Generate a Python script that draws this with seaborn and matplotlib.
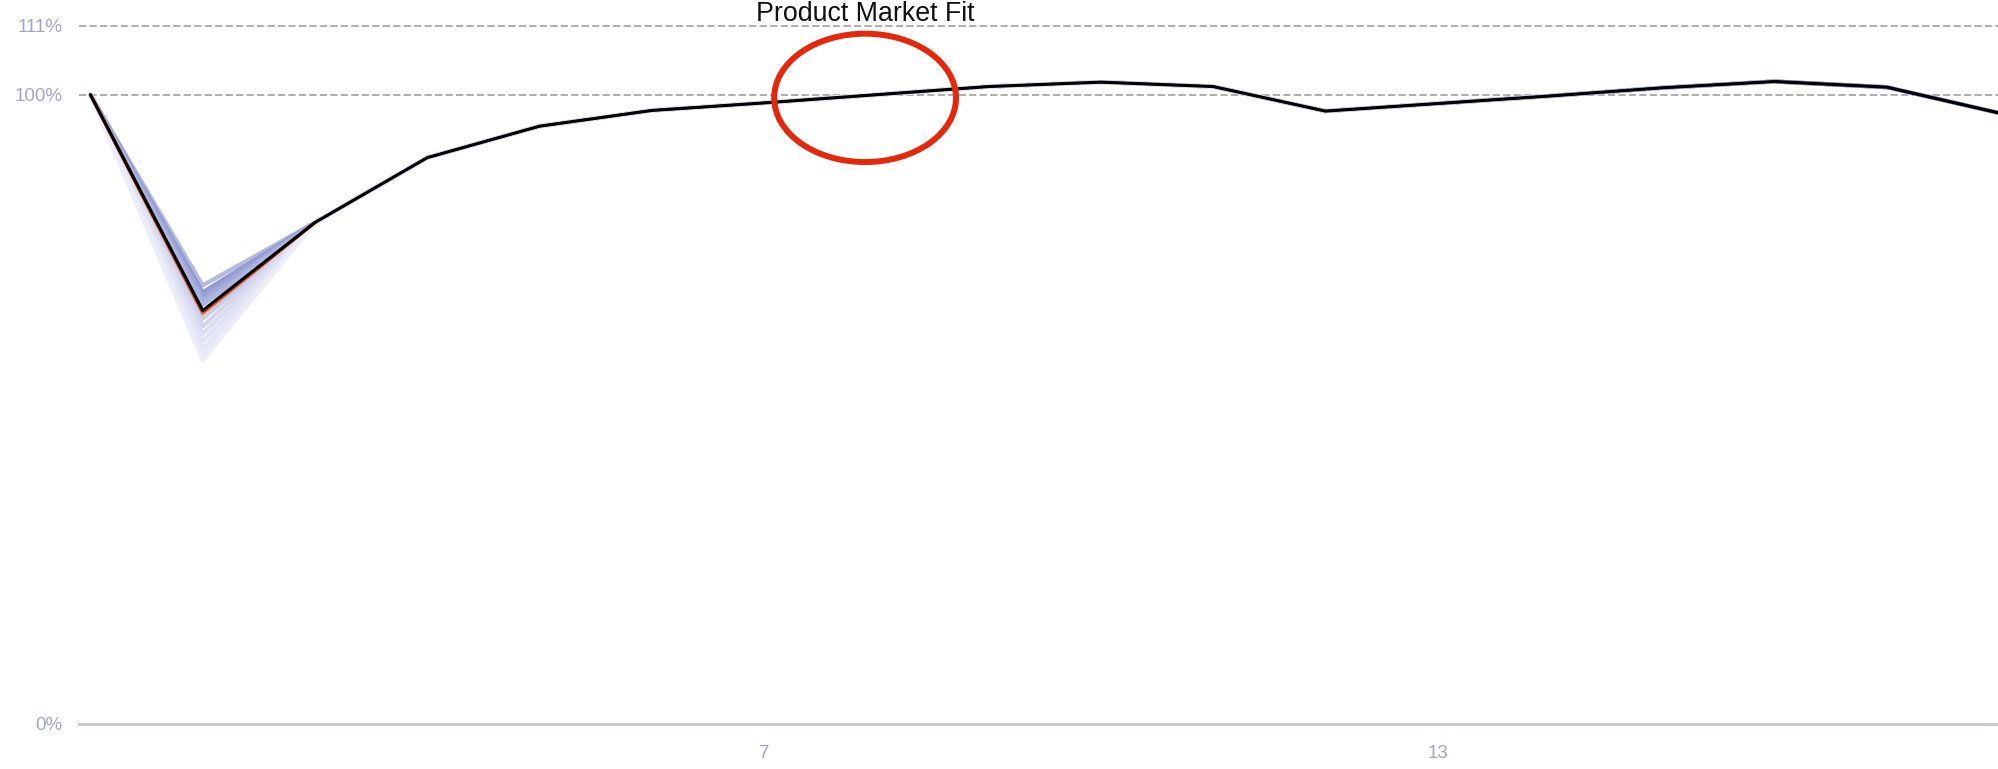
import pandas as pd
import seaborn as sns
import matplotlib.pyplot as plt
from matplotlib.patches import Ellipse

# retention (%) by month
months = list(range(1, 19))
average = [100, 65.7, 79.7, 90.0, 95.0, 97.5, 98.7, 100.0, 101.3, 102.0,
           101.3, 97.4, 98.6, 99.8, 101.1, 102.1, 101.2, 97.1]
orange_values = [100, 65.3, 79.7]

# individual cohorts: month-2 dip differs, afterwards they sit on the average
cohort_dips = [69.7, 68.6, 68.0, 67.4, 66.6, 64.4, 63.2, 62.0, 60.8, 59.6, 58.6, 57.8]
cohort_lengths = [18, 18, 17, 17, 16, 16, 15, 14, 13, 12, 11, 10]
cohort_colors = ['#b4bae0', '#8e98d2', '#99a2d6', '#a4acdb', '#afb6df', '#c8cce9',
                 '#d2d5ed', '#dadcf1', '#e0e2f3', '#e4e6f5', '#e8e9f6', '#ecedf8']

ytick_values = [0, 100, 111]
ytick_labels = ['0%', '100%', '111%']
xtick_values = [7, 13]

rows = []
for i, (dip, n) in enumerate(zip(cohort_dips, cohort_lengths)):
    vals = [100, dip] + average[2:n]
    for m, v in zip(months[:n], vals):
        rows.append({'cohort': f'c{i}', 'month': m, 'retention': v})
df = pd.DataFrame(rows)

sns.set_theme(style='white')
plt.rcParams['font.family'] = ['Liberation Sans', 'DejaVu Sans']

W, H = 1999, 769
fig = plt.figure(figsize=(W / 100, H / 100), dpi=100)
ax = fig.add_axes([79 / W, 45 / H, 1 - 79 / W, (724 - 25.5) / H])

sns.lineplot(data=df, x='month', y='retention', hue='cohort',
             palette=cohort_colors, lw=3, legend=False, ax=ax)
sns.lineplot(x=months[:3], y=orange_values, color='#e8561f', lw=2.5, ax=ax)
sns.lineplot(x=months, y=average, color='black', lw=2.3, ax=ax)

for y in (100, 111):
    ax.axhline(y, ls=(0, (4, 1.8)), color='#a8a8a8', lw=1.3, clip_on=False, zorder=0)

ax.add_patch(Ellipse((7.9, 99.5), 1.62, 20.4, fill=False, ec='#e5270b', lw=4.3, zorder=5))
ax.text(7.9, 112.8, 'Product Market Fit', ha='center', va='center',
        fontsize=19.3, color='#111111', clip_on=False)

ax.set_xlim(0.898, 18.0)
ax.set_ylim(0, 111)
ax.set_yticks(ytick_values)
ax.set_yticklabels(ytick_labels)
ax.set_xticks(xtick_values)
ax.set_xlabel('')
ax.set_ylabel('')
ax.tick_params(axis='both', length=0, colors='#a3a6c6', labelsize=13.5)
ax.tick_params(axis='y', pad=12)
ax.tick_params(axis='x', pad=15)
for s in ('left', 'top', 'right'):
    ax.spines[s].set_visible(False)
ax.spines['bottom'].set_color('#c5c6d0')
ax.spines['bottom'].set_linewidth(2)
ax.grid(False)

fig.savefig('out.png', dpi=100)
